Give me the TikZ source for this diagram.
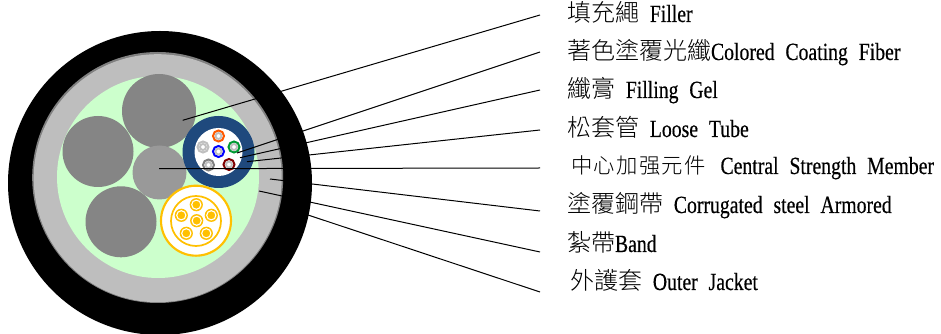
\documentclass[tikz,border=0pt]{standalone}
\usepackage{fontspec}
\setmainfont[FakeStretch=0.8,WordSpace=2.2,FakeBold=0.4]{Liberation Serif}
\newfontfamily\cjk{Noto Sans CJK TC Light}
\newcommand{\zh}[1]{{\cjk\fontsize{18pt}{20pt}\selectfont #1}}
\newcommand{\zs}[1]{{\cjk\fontsize{16pt}{18pt}\selectfont #1}}
\newcommand{\gp}{\hskip 1pt}
\tikzset{
  lab/.style={anchor=base west,inner sep=0pt,outer sep=0pt,font=\fontsize{18.5pt}{20pt}\selectfont},
  leader/.style={draw=black,line width=0.75pt},
}
\newcommand{\fiber}[3]{%
  \fill[white] (#1) circle (5.5);
  \draw[#2,line width=1.5pt] (#1) circle (5.5);
  \draw[#3,line width=1.4pt] (#1) circle (3);
}
\newcommand{\sub}[1]{%
  \fill[ycol] (#1) circle (6.6);
  \draw[white,line width=0.8pt] (#1) circle (4.6);
}
\definecolor{ycol}{HTML}{FFC000}
\definecolor{ringg}{HTML}{BEBEBE}
\definecolor{gelg}{HTML}{CCFFCC}
\definecolor{core}{HTML}{858585}
\definecolor{midc}{HTML}{999999}
\definecolor{tube}{HTML}{1F497D}
\begin{document}
\begin{tikzpicture}[x=0.75pt,y=-0.75pt]
\useasboundingbox (0,0) rectangle (941,334);
% cable layers
\fill[black] (160,183) circle (152);
\fill[gray] (157.7,177.5) circle (125.5);
\fill[ringg] (157.7,178.2) circle (124);
\fill[gelg] (158,177) circle (101);
% fillers
\fill[core] (159,111) circle (37);
\fill[core] (98,151.5) circle (35.5);
\fill[core] (121,221.8) circle (35.5);
\fill[midc] (159.5,172.5) circle (27);
% loose tube
\fill[tube] (218.5,152) circle (36);
\fill[white] (218.5,152) circle (24);
\fiber{218.5,136}{orange!70!red}{gray!50}
\fiber{234,147}{green!50!black!80!cyan}{gray!50}
\fiber{229,164.5}{red!50!black}{gray!50}
\fiber{208.5,165}{gray}{gray!50}
\fiber{203,147}{gray!50}{gray!50}
\fiber{218.5,151.5}{blue}{gray!50}
% yellow tube
\fill[white] (196,220.7) circle (35);
\draw[ycol,line width=1.6pt] (196,220.7) circle (35);
\draw[ycol,line width=1.3pt] (196,221) circle (25);
\sub{196.7,220.7}\sub{196.3,204.7}\sub{211.3,215.3}\sub{206.3,233.3}\sub{186.3,233.3}\sub{181.3,215.3}
% leader anchors
\coordinate (a1) at (182.7,120.3); \coordinate (b1) at (540,15);
\coordinate (a2) at (237,153);     \coordinate (b2) at (540,52);
\coordinate (a3) at (240,157.7);   \coordinate (b3) at (540,90);
\coordinate (a4) at (247,161.7);   \coordinate (b4) at (540,130);
\coordinate (a5) at (159,168.7);   \coordinate (b5) at (540,168);
\coordinate (a6) at (270,179);     \coordinate (b6) at (540,211);
\coordinate (a7) at (259,191);     \coordinate (b7) at (540,252);
\coordinate (a8) at (308,215);     \coordinate (b8) at (540,292);
\foreach \i in {1,...,8} \draw[leader] (a\i) -- (b\i);
% labels
\node[lab] (l1) at (567,22)  {\zh{填充繩} Filler};
\node[lab] (l2) at (567,60)  {\zh{著色塗覆光纖}Colored Coating Fiber};
\node[lab] (l3) at (567,98)  {\zh{纖膏} Filling Gel};
\node[lab] (l4) at (567,137) {\zh{松套管} Loose Tube};
\node[lab] (l5) at (571,174) {\zs{中\gp 心\gp 加\gp 强\gp 元\gp 件}\hspace{3pt} Central Strength Member};
\node[lab] (l6) at (567,213) {\zh{塗覆鋼帶} Corrugated steel Armored};
\node[lab] (l7) at (567,252) {\zh{紮帶}Band};
\node[lab] (l8) at (570,290) {\zh{外護套} Outer Jacket};
\end{tikzpicture}
\end{document}
